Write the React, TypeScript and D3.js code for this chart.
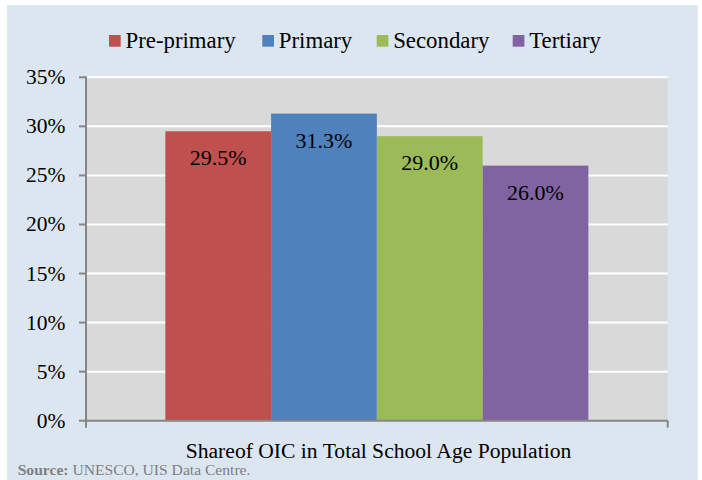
import React from "react";
import * as d3 from "d3";

const series = ["Pre-primary", "Primary", "Secondary", "Tertiary"];
const values = [0.295, 0.313, 0.29, 0.26];
const labels = ["29.5%", "31.3%", "29.0%", "26.0%"];
const colors = ["#c0504d", "#4f81bd", "#9bbb59", "#8064a2"];
const yTicks = [0, 0.05, 0.1, 0.15, 0.2, 0.25, 0.3, 0.35];
const axisTitle = "Shareof OIC in Total School Age Population";

const W = 702;
const H = 480;
const plotL = 86;
const plotR = 667.7;
const plotT = 77.3;
const plotB = 420.7;
const FONT = "'Liberation Serif', 'Times New Roman', serif";

export default function App() {
  const y = d3.scaleLinear().domain([0, 0.35]).range([plotB, plotT]);
  const x = d3
    .scaleBand<string>()
    .domain(series)
    .range([plotL, plotR])
    .paddingInner(0)
    .paddingOuter(0.75);
  const fmt = d3.format(".0%");

  const legendX = [109, 262.3, 376.7, 512.7];

  return (
    <svg
      width={W}
      height={H}
      style={{ position: "absolute", left: 0, top: 0, display: "block" }}
      fontFamily={FONT}
    >
      <rect x={0} y={0} width={W} height={H} fill="#ffffff" />
      <rect x={7} y={5} width={690.7} height={H} fill="#dce6f1" />

      {/* legend */}
      {series.map((s, i) => (
        <g key={s}>
          <rect x={legendX[i]} y={35} width={11.7} height={11.7} fill={colors[i]} />
          <text x={legendX[i] + 16.5} y={48.3} fontSize={22.8} fill="#000">
            {s}
          </text>
        </g>
      ))}

      {/* plot area */}
      <rect x={plotL} y={plotT} width={plotR - plotL} height={plotB - plotT} fill="#d9d9d9" />
      {yTicks.slice(1).map((t) => (
        <line
          key={t}
          x1={plotL}
          x2={plotR}
          y1={y(t)}
          y2={y(t)}
          stroke="#ffffff"
          strokeWidth={2}
        />
      ))}

      {/* bars */}
      {series.map((s, i) => (
        <rect
          key={s}
          x={x(s)}
          y={y(values[i])}
          width={x.bandwidth()}
          height={plotB - y(values[i])}
          fill={colors[i]}
        />
      ))}

      {/* data labels */}
      {series.map((s, i) => (
        <text
          key={s}
          x={(x(s) as number) + x.bandwidth() / 2}
          y={y(values[i]) + 34}
          textAnchor="middle"
          fontSize={22}
          fill="#000"
        >
          {labels[i]}
        </text>
      ))}

      {/* axes */}
      <line x1={plotL} x2={plotL} y1={plotT - 1} y2={plotB + 7} stroke="#868686" strokeWidth={2} />
      <line x1={plotL - 1} x2={plotR} y1={plotB} y2={plotB} stroke="#868686" strokeWidth={2} />
      <line x1={plotR} x2={plotR} y1={plotB} y2={plotB + 7} stroke="#868686" strokeWidth={2} />
      {yTicks.map((t) => (
        <g key={t}>
          <line x1={plotL - 7} x2={plotL} y1={y(t)} y2={y(t)} stroke="#868686" strokeWidth={2} />
          <text
            x={65.5}
            y={y(t) + 7}
            textAnchor="end"
            fontSize={21.5}
            fill="#000"
          >
            {fmt(t)}
          </text>
        </g>
      ))}

      {/* axis title */}
      <text x={378.5} y={457.5} textAnchor="middle" fontSize={21.6} fill="#000">
        {axisTitle}
      </text>

      {/* source */}
      <text x={17.7} y={475} fontSize={15.6} fill="#7f7f7f">
        <tspan fontWeight="bold">Source:</tspan>
        <tspan> UNESCO, UIS Data Centre.</tspan>
      </text>
    </svg>
  );
}
